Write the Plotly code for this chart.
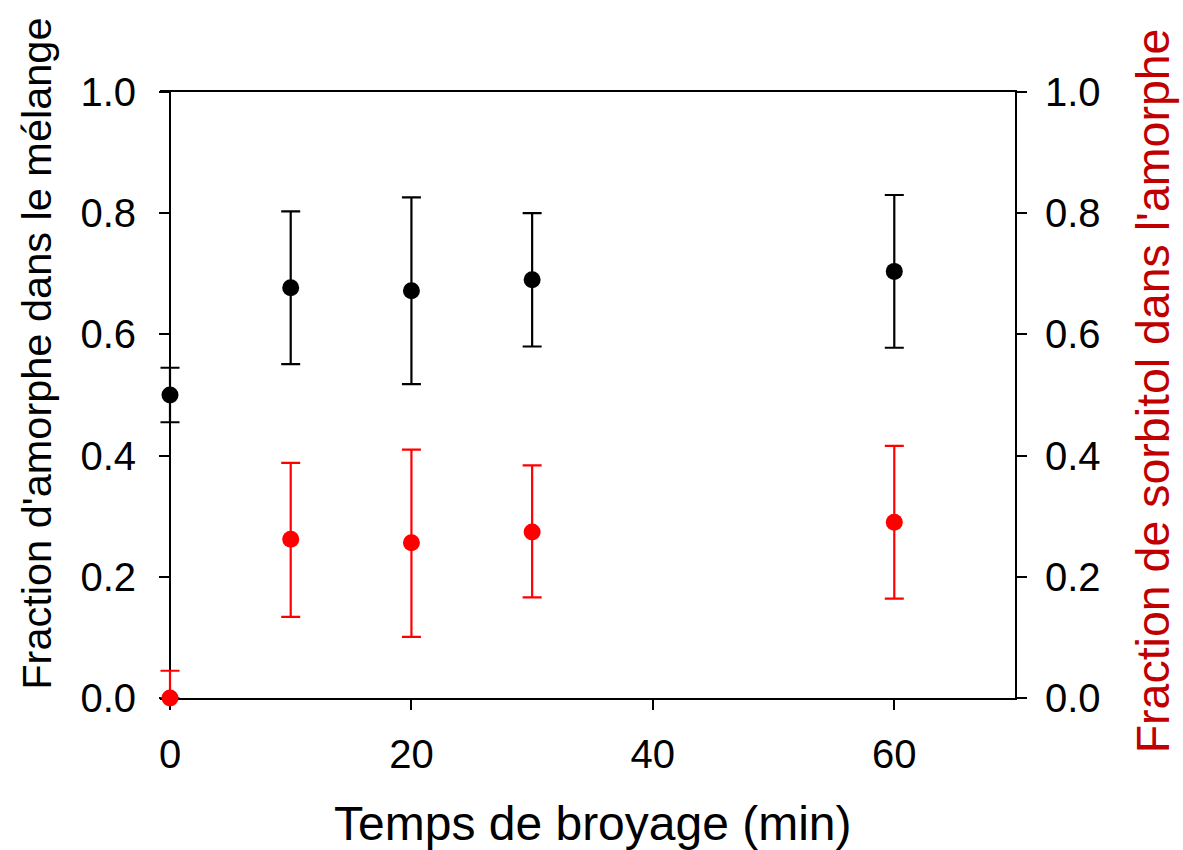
import plotly.graph_objects as go

# Data
time_min = [0, 10, 20, 30, 60]

amorph_frac = [0.500, 0.677, 0.672, 0.690, 0.704]
amorph_err = [0.045, 0.126, 0.154, 0.110, 0.126]

sorbitol_frac = [0.000, 0.262, 0.256, 0.274, 0.290]
sorbitol_err_plus = [0.045, 0.126, 0.154, 0.110, 0.126]
sorbitol_err_minus = [0.0, 0.128, 0.155, 0.108, 0.126]

x_ticks = [0, 20, 40, 60]
y_ticks = [0.0, 0.2, 0.4, 0.6, 0.8, 1.0]

FONT = "Arial, Liberation Sans, sans-serif"
RED = "#FF0000"
DARK_RED = "#C00000"

# Layout geometry (pixels)
W, H = 1183, 850
TICKLEN = 10
M_L, M_R, M_T, M_B = 160, 168, 92, 152
plot_w = W - M_L - M_R
X_MAX = 70
# extend the x range to the left by exactly one tick length so error-bar caps at x=0 are not clipped
x_pad = TICKLEN * X_MAX / (plot_w - TICKLEN)
yaxis_pos = TICKLEN / plot_w

fig = go.Figure()

fig.add_trace(go.Scatter(
    x=time_min, y=amorph_frac, mode="markers",
    marker=dict(color="black", size=17),
    error_y=dict(type="data", array=amorph_err, visible=True,
                 color="black", thickness=2.2, width=9.5),
    cliponaxis=False, showlegend=False, yaxis="y",
))

fig.add_trace(go.Scatter(
    x=time_min, y=sorbitol_frac, mode="markers",
    marker=dict(color=RED, size=17),
    error_y=dict(type="data", symmetric=False, array=sorbitol_err_plus,
                 arrayminus=sorbitol_err_minus, visible=True,
                 color=RED, thickness=2.2, width=9.5),
    cliponaxis=False, showlegend=False, yaxis="y2",
))

tick_font = dict(family=FONT, size=40, color="black")

fig.update_layout(
    width=W, height=H, autosize=False,
    margin=dict(l=M_L, r=M_R, t=M_T, b=M_B, pad=0),
    paper_bgcolor="white", plot_bgcolor="white",
    font=dict(family=FONT, color="black"),
    xaxis=dict(
        range=[-x_pad, X_MAX], tickvals=x_ticks, ticktext=[str(v) for v in x_ticks],
        showline=True, linecolor="black", linewidth=2, mirror=True,
        ticks="outside", ticklen=TICKLEN, tickwidth=2, tickcolor="black",
        showgrid=False, zeroline=False, tickfont=tick_font,
        ticklabelstandoff=10, layer="below traces",
    ),
    yaxis=dict(
        range=[0, 1], tickvals=y_ticks, ticktext=[f"{v:.1f}" for v in y_ticks],
        anchor="free", position=yaxis_pos,
        showline=True, linecolor="black", linewidth=2,
        ticks="outside", ticklen=TICKLEN, tickwidth=2, tickcolor="black",
        showgrid=False, zeroline=False, tickfont=tick_font,
        ticklabelstandoff=15, layer="below traces",
    ),
    yaxis2=dict(
        range=[0, 1], tickvals=y_ticks, ticktext=[f"{v:.1f}" for v in y_ticks],
        overlaying="y", side="right", anchor="x",
        showline=True, linecolor="black", linewidth=2,
        ticks="outside", ticklen=TICKLEN, tickwidth=2, tickcolor="black",
        showgrid=False, zeroline=False, tickfont=tick_font,
        ticklabelstandoff=10, layer="below traces",
    ),
    annotations=[
        dict(text="Temps de broyage (min)", xref="paper", yref="paper",
             x=0.5 + (yaxis_pos / 2), y=-0.207, xanchor="center", yanchor="middle",
             showarrow=False, font=dict(family=FONT, size=48, color="black")),
        dict(text="Fraction d'amorphe dans le mélange", xref="paper", yref="paper",
             x=(37 - M_L) / plot_w, y=0.568, xanchor="center", yanchor="middle",
             textangle=-90,
             showarrow=False, font=dict(family=FONT, size=41.5, color="black")),
        dict(text="Fraction de sorbitol dans l'amorphe", xref="paper", yref="paper",
             x=(1153 - M_L) / plot_w, y=0.506, xanchor="center", yanchor="middle",
             textangle=-90,
             showarrow=False, font=dict(family=FONT, size=46.5, color=DARK_RED)),
    ],
)

fig.write_html("out.html", config={"displayModeBar": False},
               post_script="document.body.style.margin='0px';")
